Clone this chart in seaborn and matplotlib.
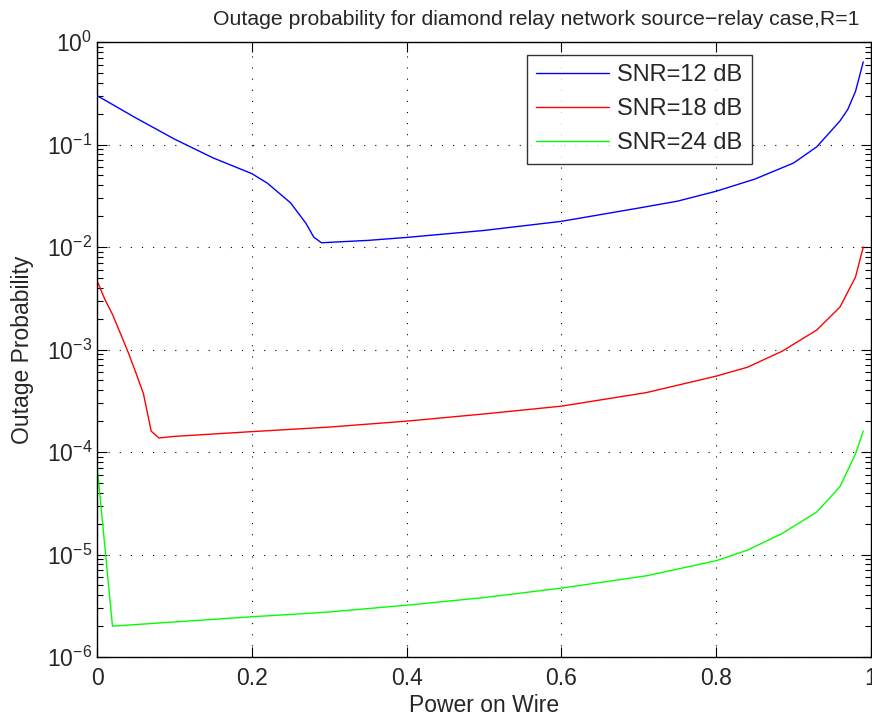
import numpy as np
import pandas as pd
import matplotlib
matplotlib.use("Agg")
import matplotlib.pyplot as plt
import matplotlib.ticker as mticker
import seaborn as sns

# ---- data ----
blue_x = [0.00, 0.05, 0.10, 0.15, 0.20, 0.22, 0.25, 0.27, 0.28, 0.29, 0.30, 0.35, 0.40,
          0.50, 0.60, 0.70, 0.75, 0.80, 0.85, 0.90, 0.93, 0.95, 0.96, 0.97, 0.98, 0.99]
blue_y = [0.30, 0.182, 0.113, 0.074, 0.052, 0.042, 0.027, 0.017, 0.0125, 0.0110, 0.0111,
          0.0116, 0.0124, 0.0145, 0.0178, 0.024, 0.028, 0.035, 0.046, 0.066, 0.095,
          0.14, 0.17, 0.22, 0.33, 0.64]

red_x = [0.00, 0.01, 0.02, 0.03, 0.04, 0.05, 0.06, 0.07, 0.08, 0.10, 0.20, 0.30, 0.40,
         0.50, 0.60, 0.71, 0.80, 0.84, 0.885, 0.93, 0.96, 0.98, 0.99]
red_y = [4.7e-3, 3.1e-3, 2.2e-3, 1.45e-3, 9.5e-4, 6.0e-4, 3.7e-4, 1.6e-4, 1.37e-4,
         1.42e-4, 1.58e-4, 1.75e-4, 2.0e-4, 2.35e-4, 2.8e-4, 3.8e-4, 5.5e-4, 6.7e-4,
         9.6e-4, 1.55e-3, 2.6e-3, 5.1e-3, 1.0e-2]

green_x = [0.00, 0.02, 0.20, 0.25, 0.30, 0.40, 0.50, 0.60, 0.71, 0.80, 0.84, 0.885,
           0.93, 0.96, 0.98, 0.99]
green_y = [7.5e-5, 2.0e-6, 2.47e-6, 2.6e-6, 2.75e-6, 3.2e-6, 3.8e-6, 4.7e-6, 6.2e-6,
           8.7e-6, 1.1e-5, 1.6e-5, 2.6e-5, 4.6e-5, 9.6e-5, 1.6e-4]

series_names = ["SNR=12 dB", "SNR=18 dB", "SNR=24 dB"]
series_colors = ["#0000ff", "#ff0000", "#00ff00"]

title = "Outage probability for diamond relay network source\u2212relay case,R=1"
xlabel = "Power on Wire"
ylabel = "Outage Probability"
xticks = [0, 0.2, 0.4, 0.6, 0.8, 1]
xticklabels = ["0", "0.2", "0.4", "0.6", "0.8", "1"]

frames = []
for name, xs, ys in zip(series_names, [blue_x, red_x, green_x], [blue_y, red_y, green_y]):
    frames.append(pd.DataFrame({"x": xs, "y": ys, "series": name}))
df = pd.concat(frames, ignore_index=True)

sns.set_style("ticks")
plt.rcParams["font.family"] = ["Liberation Sans", "DejaVu Sans"]
plt.rcParams["mathtext.fontset"] = "custom"
plt.rcParams["mathtext.rm"] = "Liberation Sans"
plt.rcParams["mathtext.it"] = "Liberation Sans"
plt.rcParams["mathtext.bf"] = "Liberation Sans"

fig = plt.figure(figsize=(8.72, 7.16), dpi=100)
ax = fig.add_axes([97 / 872, 1 - 657 / 716, 774 / 872, (657 - 42) / 716])

sns.lineplot(data=df, x="x", y="y", hue="series", palette=series_colors,
             hue_order=series_names, linewidth=1.0, ax=ax, legend=True, sort=False)

ax.set_yscale("log")
ax.set_ylim(1e-6, 1)
ax.set_xlim(0, 1)
ax.set_xticks(xticks)
ax.set_xticklabels(xticklabels)
ax.yaxis.set_major_locator(mticker.LogLocator(base=10, numticks=10))
ax.yaxis.set_minor_locator(mticker.LogLocator(base=10, subs=np.arange(2, 10), numticks=20))
ax.yaxis.set_minor_formatter(mticker.NullFormatter())

ax.grid(True, which="major", color="black", linestyle=(0, (1, 9)), linewidth=0.8)
ax.tick_params(axis="both", which="both", direction="in", top=True, right=True,
               labelsize=16.5, color="black")
ax.tick_params(axis="x", which="major", pad=7)
ax.tick_params(which="major", length=7, width=0.8)
ax.tick_params(which="minor", length=4, width=0.8)
for s in ax.spines.values():
    s.set_color("black")
    s.set_linewidth(1.0)

ax.set_title(title, fontsize=15.3, pad=12, x=(536 - 97) / 774)
ax.set_xlabel(xlabel, fontsize=16.5, labelpad=3)
ax.set_ylabel(ylabel, fontsize=16.5, labelpad=9)

leg = ax.legend(loc="upper right", bbox_to_anchor=((752 - 97) / 774, (657 - 55) / 615),
                fontsize=17, frameon=True, fancybox=False, edgecolor="black",
                handlelength=3.1, borderpad=0.4, labelspacing=0.5, handletextpad=0.35,
                borderaxespad=0)
leg.get_frame().set_linewidth(1.0)

fig.savefig("out.png", dpi=100)
